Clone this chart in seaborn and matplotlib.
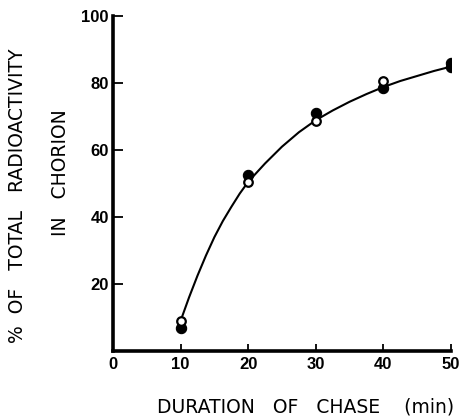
import matplotlib
matplotlib.use("Agg")
import matplotlib.pyplot as plt
import seaborn as sns
import pandas as pd

# Data
filled_x = [10, 20, 30, 40, 50, 50]
filled_y = [7.0, 52.5, 71.0, 78.6, 84.9, 86.0]
open_x = [10, 20, 30, 40]
open_y = [9.0, 50.5, 68.7, 80.6]
curve_x = [10, 11.25, 12.5, 13.75, 15, 16.25, 17.5, 18.75, 20, 22.5, 25, 27.5, 30, 32.5, 35, 37.5, 40, 42.5, 45, 47.5, 50]
curve_y = [9.0, 16.0, 22.5, 28.5, 34.0, 38.8, 43.0, 47.0, 50.5, 56.0, 61.0, 65.3, 68.9, 71.8, 74.4, 76.7, 78.8, 80.6, 82.1, 83.6, 84.9]
x_ticks = [0, 10, 20, 30, 40, 50]
y_ticks = [20, 40, 60, 80, 100]

sns.set_style("ticks")
plt.rcParams['font.family'] = ['Liberation Sans', 'DejaVu Sans']
plt.rcParams['xtick.color'] = 'black'
plt.rcParams['ytick.color'] = 'black'
plt.rcParams['axes.edgecolor'] = 'black'

fig = plt.figure(figsize=(4.67, 4.18), dpi=100)
ax = fig.add_axes([113/467, 1-351/418, (451-113)/467, (351-16)/418])

curve = pd.DataFrame({"x": curve_x, "y": curve_y})
filled = pd.DataFrame({"x": filled_x, "y": filled_y})
opened = pd.DataFrame({"x": open_x, "y": open_y})

sns.lineplot(data=curve, x="x", y="y", ax=ax, color="black", linewidth=1.5, zorder=2)
sns.scatterplot(data=filled, x="x", y="y", ax=ax, color="black", s=55,
                edgecolor="black", linewidth=0.8, zorder=3)
sns.scatterplot(data=opened, x="x", y="y", ax=ax, color="white", s=38,
                edgecolor="black", linewidth=1.6, zorder=4)

ax.set_xlim(0, 50)
ax.set_ylim(0, 100)
ax.set_xticks(x_ticks)
ax.set_yticks(y_ticks)
ax.set_xticklabels([str(t) for t in x_ticks], fontsize=12, fontweight="bold")
ax.set_yticklabels([str(t) for t in y_ticks], fontsize=12, fontweight="bold")
ax.tick_params(axis="x", direction="in", length=5, width=1.3, pad=4, colors="black")
ax.tick_params(axis="y", direction="in", length=7, width=1.3, pad=3, colors="black")
for s in ["top", "right"]:
    ax.spines[s].set_visible(False)
for s in ["left", "bottom"]:
    ax.spines[s].set_linewidth(2.6)
    ax.spines[s].set_color("black")
ax.set_xlabel("")
ax.set_ylabel("")

lab = dict(fontsize=13.5, family=["DejaVu Sans"], color="black")
fig.text(306/467, 1-407/418, "DURATION   OF   CHASE    (min)", ha="center", va="center", **lab)
fig.text(18/467, 1-196/418, "%  OF   TOTAL   RADIOACTIVITY", ha="center", va="center",
         rotation=90, **lab)
fig.text(60/467, 1-173/418, "IN   CHORION", ha="center", va="center",
         rotation=90, **lab)

fig.savefig("out.png", dpi=100)
